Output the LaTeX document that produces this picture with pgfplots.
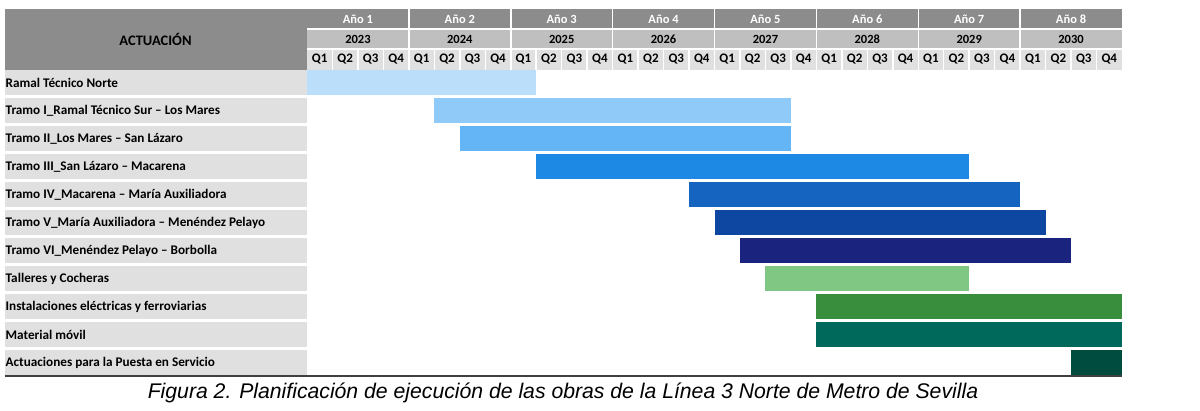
\documentclass[border=0pt]{standalone}
\usepackage{pgfplots}
\pgfplotsset{compat=1.18}
\usepackage{fontspec}
\setmainfont{Carlito}
\newfontfamily\capfont{Liberation Sans}

\definecolor{hdrdark}{RGB}{140,140,140}
\definecolor{hdrmid}{RGB}{191,191,191}
\definecolor{hdrlight}{RGB}{224,224,224}
\definecolor{cellgray}{RGB}{224,224,224}
\definecolor{c1}{HTML}{BBDEFB}
\definecolor{c2}{HTML}{90CAF9}
\definecolor{c3}{HTML}{64B5F6}
\definecolor{c4}{HTML}{1E88E5}
\definecolor{c5}{HTML}{1565C0}
\definecolor{c6}{HTML}{0D47A1}
\definecolor{c7}{HTML}{1A237E}
\definecolor{c8}{HTML}{81C784}
\definecolor{c9}{HTML}{388E3C}
\definecolor{c10}{HTML}{00695C}
\definecolor{c11}{HTML}{004D40}

% one Gantt bar: row, first quarter (0 = Q1 2023), end quarter, colour
\newcommand{\ganttbar}[4]{%
  \addplot[fill=#4, draw=none, mark=none]
    coordinates {(#2,#1-0.43) (#3,#1-0.43) (#3,#1+0.43) (#2,#1+0.43)};}

\begin{document}
\begin{tikzpicture}
\useasboundingbox (0pt,0pt) rectangle (1200pt,-410pt);

\begin{axis}[at={(307pt,-376.5pt)}, anchor=south west,
  scale only axis, width=815pt, height=308pt,
  xmin=0, xmax=32, ymin=0.5, ymax=11.5, y dir=reverse,
  hide axis, clip=false]
  \ganttbar{1}{0}{9}{c1}
  \ganttbar{2}{5}{19}{c2}
  \ganttbar{3}{6}{19}{c3}
  \ganttbar{4}{9}{26}{c4}
  \ganttbar{5}{15}{28}{c5}
  \ganttbar{6}{16}{29}{c6}
  \ganttbar{7}{17}{30}{c7}
  \ganttbar{8}{18}{26}{c8}
  \ganttbar{9}{20}{32}{c9}
  \ganttbar{10}{20}{32}{c10}
  \ganttbar{11}{30}{32}{c11}
\end{axis}

\begin{scope}[x=1pt,y=-1pt]
  % header block
  \fill[hdrdark] (4.5,9) rectangle (306.5,69.5);
  \fill[hdrdark] (307,9) rectangle (1122,29);
  \fill[hdrmid] (307,29) rectangle (1122,49);
  \fill[hdrlight] (307,49) rectangle (1122,69.5);
  \draw[white, line width=1.2pt] (307,29) -- (1122,29);
  \draw[white, line width=1.2pt] (307,49) -- (1122,49);
  \foreach \k in {1,...,7}
    \draw[white, line width=1.5pt] ({307+101.875*\k},9) -- ({307+101.875*\k},49);
  \foreach \k in {1,...,31}
    \draw[white, line width=1.5pt] ({307+25.469*\k},49) -- ({307+25.469*\k},69.5);
  \node[font=\bfseries\fontsize{14.5}{16}\selectfont] at (155.5,39) {ACTUACIÓN};
  \foreach \k/\yr in {1/2023,2/2024,3/2025,4/2026,5/2027,6/2028,7/2029,8/2030} {
    \node[font=\bfseries\fontsize{12.5}{14}\selectfont, text=white] at ({307+101.875*(\k-0.5)},19) {Año \k};
    \node[font=\bfseries\fontsize{12.5}{14}\selectfont] at ({307+101.875*(\k-0.5)},39) {\yr};
  }
  \foreach \k in {0,...,31} {
    \pgfmathtruncatemacro{\q}{mod(\k,4)+1}
    \node[font=\bfseries\fontsize{13}{14}\selectfont] at ({307+25.469*(\k+0.5)},59.5) {Q\q};
  }
  % row labels
  \foreach \i/\t in {1/Ramal Técnico Norte,
      2/Tramo I\_Ramal Técnico Sur – Los Mares,
      3/Tramo II\_Los Mares – San Lázaro,
      4/Tramo III\_San Lázaro – Macarena,
      5/Tramo IV\_Macarena – María Auxiliadora,
      6/Tramo V\_María Auxiliadora – Menéndez Pelayo,
      7/Tramo VI\_Menéndez Pelayo – Borbolla,
      8/Talleres y Cocheras,
      9/Instalaciones eléctricas y ferroviarias,
      10/Material móvil,
      11/Actuaciones para la Puesta en Servicio} {
    \fill[cellgray] (4.5,{82.5+28*(\i-1)-12.3}) rectangle (306.5,{82.5+28*(\i-1)+12.3});
    \node[anchor=west, inner sep=0pt, font=\bfseries\fontsize{13.2}{15}\selectfont]
      at (5.5,{82.5+28*(\i-1)}) {\t};
  }
  \draw[black!75, line width=2pt] (4.5,375.5) -- (1122,375.5);
  \node[font=\capfont\itshape\fontsize{21.2}{25}\selectfont] at (563,393)
    {Figura 2. Planificación de ejecución de las obras de la Línea 3 Norte de Metro de Sevilla};
\end{scope}
\end{tikzpicture}
\end{document}
